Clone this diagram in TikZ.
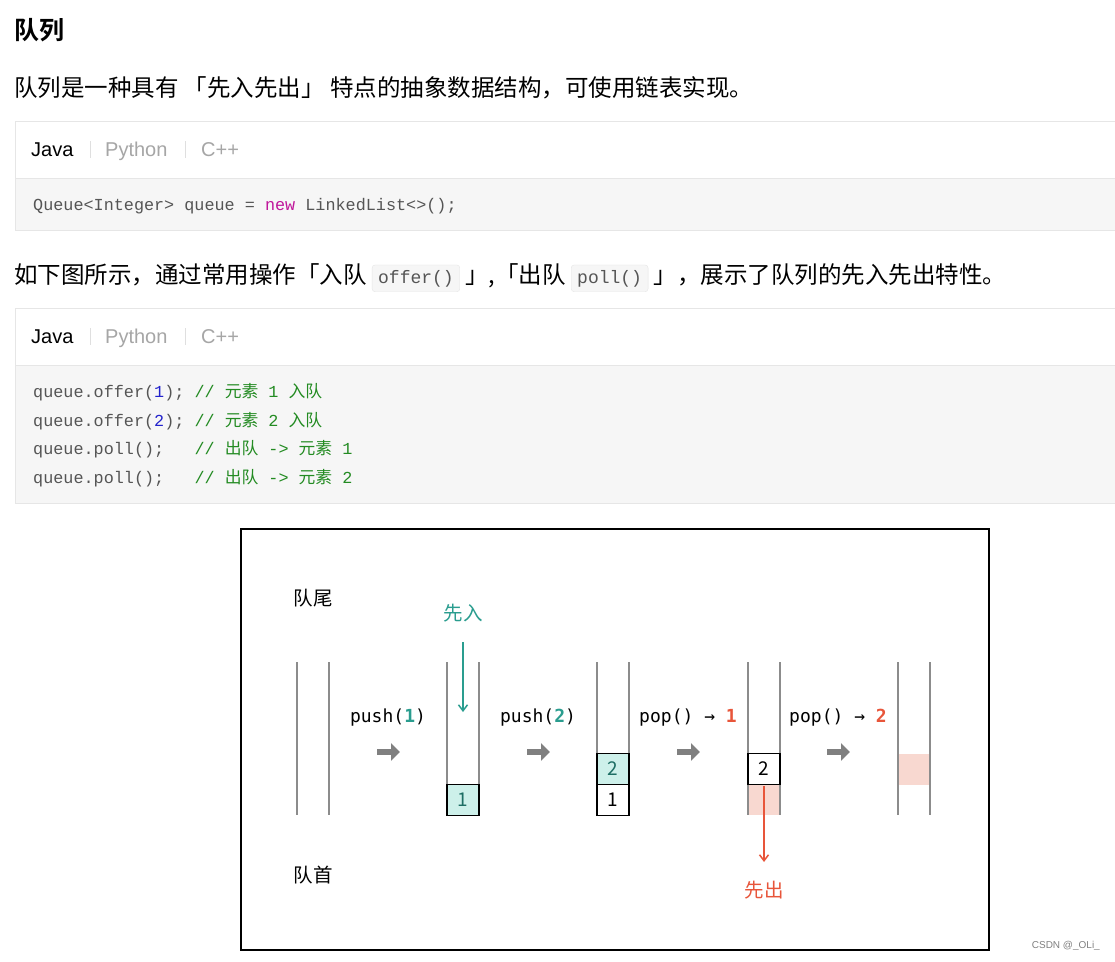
\documentclass[tikz,border=0pt]{standalone}
\usepackage{fontspec}
\setmainfont{Liberation Sans}
\setmonofont{Liberation Mono}
\newfontfamily\cjk{Noto Sans CJK SC}
\newfontfamily\cjkb{Noto Sans CJK SC Bold}
\newfontfamily\dvs{DejaVu Sans Mono}
\usetikzlibrary{arrows.meta}
\definecolor{teal}{HTML}{2A9D8F}
\definecolor{tealfill}{HTML}{CDF0EA}
\definecolor{orng}{HTML}{E8553A}
\definecolor{pinkf}{HTML}{F8D8D0}
\definecolor{codebg}{HTML}{F6F6F6}
\definecolor{bord}{HTML}{E6E6E6}
\definecolor{cgreen}{HTML}{238B22}
\definecolor{cgray}{HTML}{555555}
\definecolor{kw}{HTML}{C0169B}
\definecolor{num}{HTML}{2222CC}
\newcommand\icode[1]{\tikz[baseline=(ic.base)]\node[draw=bord,fill=codebg,rounded corners=3,inner xsep=6pt,inner ysep=5pt,font=\fontsize{18}{18}\selectfont\ttfamily,text=cgray](ic){#1};}
\tikzset{
 txt/.style={anchor=base west,inner sep=0,font=\fontsize{23.5}{23.5}\selectfont\cjk},
 tab/.style={anchor=base west,inner sep=0,font=\fontsize{20}{20}\selectfont},
 code/.style={anchor=base west,inner sep=0,font=\fontsize{16.8}{16.8}\selectfont\ttfamily,text=cgray},
 tube/.style={draw=gray!90,line width=1.2},
 cell/.style={draw=black,line width=1.8,minimum width=32,minimum height=31,inner sep=0,font=\fontsize{19}{19}\selectfont\cjk},
 lbl/.style={inner sep=0,font=\fontsize{18}{18}\selectfont\dvs},
 cj/.style={inner sep=0,font=\fontsize{19.5}{19.5}\selectfont\cjk},
 garrow/.style={draw=gray,line width=6,-{Triangle[length=9,width=17]}},
}
\begin{document}
\begin{tikzpicture}[x=1pt,y=-1pt]
\useasboundingbox (0,0) rectangle (1115,961);
\fill[white] (0,0) rectangle (1115,961);
\node[anchor=west,inner sep=0,font=\fontsize{25}{25}\selectfont\cjkb] (title) at (14,30) {队列};
\node[txt] (p1) at (14,96) {队列是一种具有 「先入先出」 特点的抽象数据结构，可使用链表实现。};
% code box 1
\draw[bord,fill=white] (15,121) rectangle (1120,178);
\draw[bord,fill=codebg] (15,178) rectangle (1120,230);
\node[tab] (j1) at (31,156) {Java};
\node[tab,text=gray!70] (py1) at (105,156) {Python};
\node[tab,text=gray!70] (c1) at (201,156) {C++};
\draw[gray!25] (90,141) -- (90,158) (185,141) -- (185,158);
\node[code] (l0) at (33,210) {Queue<Integer> queue = \textcolor{kw}{new} LinkedList<>();};
% paragraph 2
\node[txt] (p2) at (14,283) {如下图所示，通过常用操作「入队 \icode{offer()} 」,「出队 \icode{poll()} 」，展示了队列的先入先出特性。};
% code box 2
\draw[bord,fill=white] (15,308) rectangle (1120,365);
\draw[bord,fill=codebg] (15,365) rectangle (1120,503);
\node[tab] (j2) at (31,343) {Java};
\node[tab,text=gray!70] (py2) at (105,343) {Python};
\node[tab,text=gray!70] (c2) at (201,343) {C++};
\draw[gray!25] (90,328) -- (90,345) (185,328) -- (185,345);
\node[code] (l1) at (33,397) {queue.offer(\textcolor{num}{1}); \textcolor{cgreen}{// {\cjk 元素} 1 {\cjk 入队}}};
\node[code] (l2) at (33,426) {queue.offer(\textcolor{num}{2}); \textcolor{cgreen}{// {\cjk 元素} 2 {\cjk 入队}}};
\node[code] (l3) at (33,454) {queue.poll();\ \ \ \textcolor{cgreen}{// {\cjk 出队} -> {\cjk 元素} 1}};
\node[code] (l4) at (33,483) {queue.poll();\ \ \ \textcolor{cgreen}{// {\cjk 出队} -> {\cjk 元素} 2}};
% diagram frame
\draw[line width=2] (241,529) rectangle (989,950);
\node[cj] (tail) at (313,598) {队尾};
\node[cj] (head) at (313,875) {队首};
% pink fills
\fill[pinkf] (748,785) rectangle (780,815);
\fill[pinkf] (898,754) rectangle (930,785);
% tubes
\foreach \x in {297,447,597,748,898}{
  \draw[tube] (\x,662) -- (\x,815);
  \draw[tube] (\x+32,662) -- (\x+32,815);
}
\node[cell,fill=tealfill,text=teal!70!black] (c11) at (463,800) {1};
\node[cell,fill=tealfill,text=teal!70!black] (c22) at (613,769) {2};
\node[cell,fill=white] (c21) at (613,800) {1};
\node[cell,fill=white] (c32) at (764,769) {2};
% labels
\node[lbl] (op1) at (388,718) {push(\textcolor{teal}{\bfseries 1})};
\node[lbl] (op2) at (538,718) {push(\textcolor{teal}{\bfseries 2})};
\node[lbl] (op3) at (688,718) {pop() → \textcolor{orng}{\bfseries 1}};
\node[lbl] (op4) at (838,718) {pop() → \textcolor{orng}{\bfseries 2}};
\foreach \x in {377,527,677,827}{
  \draw[garrow] (\x,752) -- (\x+23,752);
}
\node[cj,text=teal] (in) at (463,613) {先入};
\coordinate (inTop) at (463,642);
\coordinate (inEnd) at (463,712);
\draw[teal,line width=1.5,-{Straight Barb[length=6,width=9]}] (inTop) -- (inEnd);
\node[cj,text=orng] (out) at (764,890) {先出};
\coordinate (outTop) at (764,786);
\coordinate (outEnd) at (764,862);
\draw[orng,line width=1.5,-{Straight Barb[length=6,width=9]}] (outTop) -- (outEnd);
\node[anchor=east,inner sep=0,font=\fontsize{10}{10}\selectfont,text=gray] (wm) at (1100,946) {CSDN @\_OLi\_};
\end{tikzpicture}
\end{document}
